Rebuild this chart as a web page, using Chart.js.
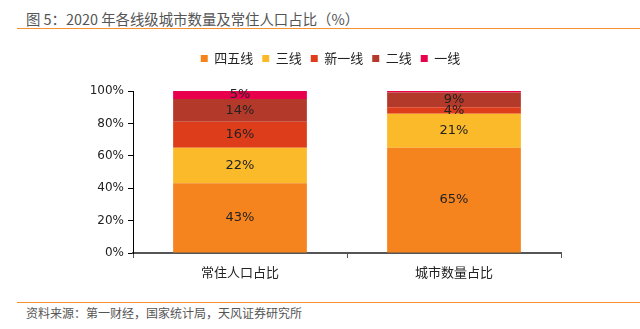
<!DOCTYPE html>
<html>
<head>
<meta charset="utf-8">
<script src="https://cdn.jsdelivr.net/npm/chart.js@4"></script>
<style>
  html, body { margin: 0; padding: 0; background: #fff; }
  body { width: 640px; height: 329px; position: relative; overflow: hidden;
         font-family: "Noto Sans CJK SC", "Noto Sans", sans-serif; }
  #title { position: absolute; left: 26px; top: 8px; font-size: 14.4px; color: #555; white-space: nowrap; }
  #line1 { position: absolute; left: 17px; right: 0; top: 28px; height: 0; border-top: 1.5px solid #F5922F; }
  #line2 { position: absolute; left: 17px; right: 0; top: 302px; height: 0; border-top: 1.5px solid #F5922F; }
  #source { position: absolute; left: 26px; top: 304px; font-size: 12px; color: #555; white-space: nowrap; }
  #wrap { position: absolute; left: 0; top: 40px; width: 640px; height: 255px; }
</style>
</head>
<body>
<div id="title">图 5：2020 年各线级城市数量及常住人口占比（%）</div>
<div id="line1"></div>
<div id="wrap"><canvas id="grafico"></canvas></div>
<div id="line2"></div>
<div id="source">资料来源：第一财经，国家统计局，天风证券研究所</div>

<script>
// ---------- Dados ----------
const categorias = ['常住人口占比', '城市数量占比'];
const series = ['四五线', '三线', '新一线', '二线', '一线'];
const valoresQuatroCinco = [43, 65];
const valoresTres = [22, 21];
const valoresNovoUm = [16, 4];
const valoresDois = [14, 9];
const valoresUm = [5, 1];
const cores = ['#F5841F', '#FBBA2A', '#DE3D1C', '#B33A2B', '#E8004C'];
const ticksY = [0, 20, 40, 60, 80, 100];

const fonteNum = '"DejaVu Sans", "Noto Sans CJK SC", sans-serif';
const fonteCJK = '"Noto Sans CJK SC", sans-serif';

// rótulos dentro das barras
const rotulos = {
  id: 'rotulos',
  afterDatasetsDraw(chart) {
    const ctx = chart.ctx;
    ctx.save();
    ctx.font = '13px ' + fonteNum;
    ctx.fillStyle = '#222';
    ctx.textAlign = 'center';
    ctx.textBaseline = 'middle';
    chart.data.datasets.forEach((ds, i) => {
      chart.getDatasetMeta(i).data.forEach((bar, j) => {
        const v = ds.data[j];
        if (v < 2) return;
        ctx.fillText(v + '%', bar.x, (bar.y + bar.base) / 2);
      });
    });
    ctx.restore();
  }
};

// espaço extra abaixo da legenda e legenda um pouco à direita
const ajusteLegenda = {
  id: 'ajusteLegenda',
  beforeInit(chart) {
    const fitOriginal = chart.legend.fit;
    chart.legend.fit = function () {
      fitOriginal.bind(chart.legend)();
      this.height += 16;
    };
  },
  afterLayout(chart) {
    chart.legend.left += 20;
    chart.legend.right += 20;
    chart.legend.adjustHitBoxes();
  }
};

const dados = [valoresQuatroCinco, valoresTres, valoresNovoUm, valoresDois, valoresUm];

new Chart(document.getElementById('grafico').getContext('2d'), {
  type: 'bar',
  data: {
    labels: categorias,
    datasets: series.map((nome, i) => ({
      label: nome,
      data: dados[i],
      backgroundColor: cores[i],
      borderWidth: 0,
      barPercentage: 0.625,
      categoryPercentage: 1
    }))
  },
  options: {
    responsive: true,
    maintainAspectRatio: false,
    animation: false,
    layout: { padding: { left: 60, right: 79, top: 3, bottom: 0 } },
    plugins: {
      legend: {
        position: 'top',
        labels: {
          boxWidth: 7, boxHeight: 7, padding: 9,
          color: '#222',
          font: { family: fonteCJK, size: 13 }
        }
      },
      tooltip: { enabled: false }
    },
    scales: {
      x: {
        stacked: true,
        grid: { offset: true, drawOnChartArea: false, tickLength: 5, color: '#555', tickColor: '#555' },
        border: { color: '#555', width: 2 },
        ticks: { color: '#222', font: { family: fonteCJK, size: 13 }, padding: 6 },
        afterFit: s => { s.height = 42; }
      },
      y: {
        stacked: true,
        min: 0, max: 100,
        afterBuildTicks: s => { s.ticks = ticksY.map(v => ({ value: v })); },
        grid: { drawOnChartArea: false, tickLength: 5, color: '#000', tickColor: '#000' },
        border: { color: '#000', width: 1 },
        ticks: { color: '#222', font: { family: fonteNum, size: 12 }, padding: 4,
                 callback: v => v + '%' },
        afterFit: s => { s.width = 73; }
      }
    }
  },
  plugins: [rotulos, ajusteLegenda]
});
</script>
</body>
</html>
